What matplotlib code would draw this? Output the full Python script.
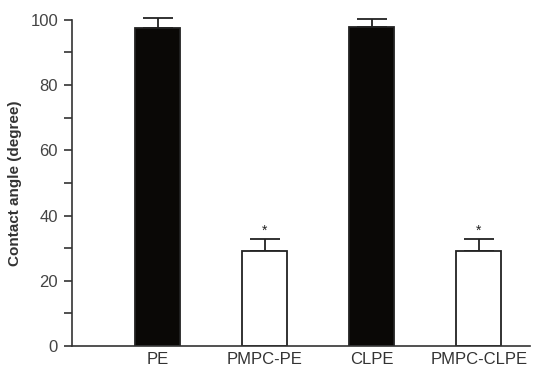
import matplotlib
matplotlib.use("Agg")
import matplotlib.pyplot as plt
import numpy as np

plt.rcParams['font.family'] = ['Liberation Sans', 'DejaVu Sans']

categories = ["PE", "PMPC-PE", "CLPE", "PMPC-CLPE"]
values = [97.5, 29.0, 97.8, 29.0]
errors = [3.0, 3.7, 2.5, 3.7]
colors = ["#0a0806", "white", "#0a0806", "white"]
significant = [False, True, False, True]

fig = plt.figure(figsize=(5.41, 3.67), dpi=100)
ax = fig.add_axes([0.133, 0.057, 0.847, 0.889])
x = np.arange(len(categories))
ax.bar(x, values, width=0.42, color=colors, edgecolor="#222222", linewidth=1.3, zorder=2)
eb = ax.errorbar(x, values, yerr=[np.zeros(len(values)), errors], fmt='none',
                 ecolor="#222222", elinewidth=1.3, capsize=11, capthick=1.3, zorder=1)
for art in eb.lines:
    if isinstance(art, (list, tuple)):
        for a in art:
            a.set_clip_on(False)
    elif art is not None:
        art.set_clip_on(False)
for xi, v, e, s in zip(x, values, errors, significant):
    if s:
        ax.text(xi, v + e + 0.5, "*", ha="center", va="bottom", fontsize=10, color="#222222")

ax.set_xlim(-0.80, 3.48)
ax.set_ylim(0, 100)
ax.set_yticks([0, 20, 40, 60, 80, 100])
ax.set_yticks([10, 30, 50, 70, 90], minor=True)
ax.set_xticks(x)
ax.set_xticklabels(categories, fontsize=12, color="#333333")
ax.tick_params(axis='x', length=0, pad=4)
ax.tick_params(axis='y', which='both', direction='out', length=6, width=1.2, labelsize=12,
               labelcolor="#444444", color="#333333", pad=4)
ax.spines['top'].set_visible(False)
ax.spines['right'].set_visible(False)
for sp in ['left', 'bottom']:
    ax.spines[sp].set_linewidth(1.2)
    ax.spines[sp].set_color("#333333")
ax.set_ylabel("Contact angle (degree)", fontsize=11, fontweight="bold", color="#333333", labelpad=6)

fig.savefig("out.png", dpi=100)
